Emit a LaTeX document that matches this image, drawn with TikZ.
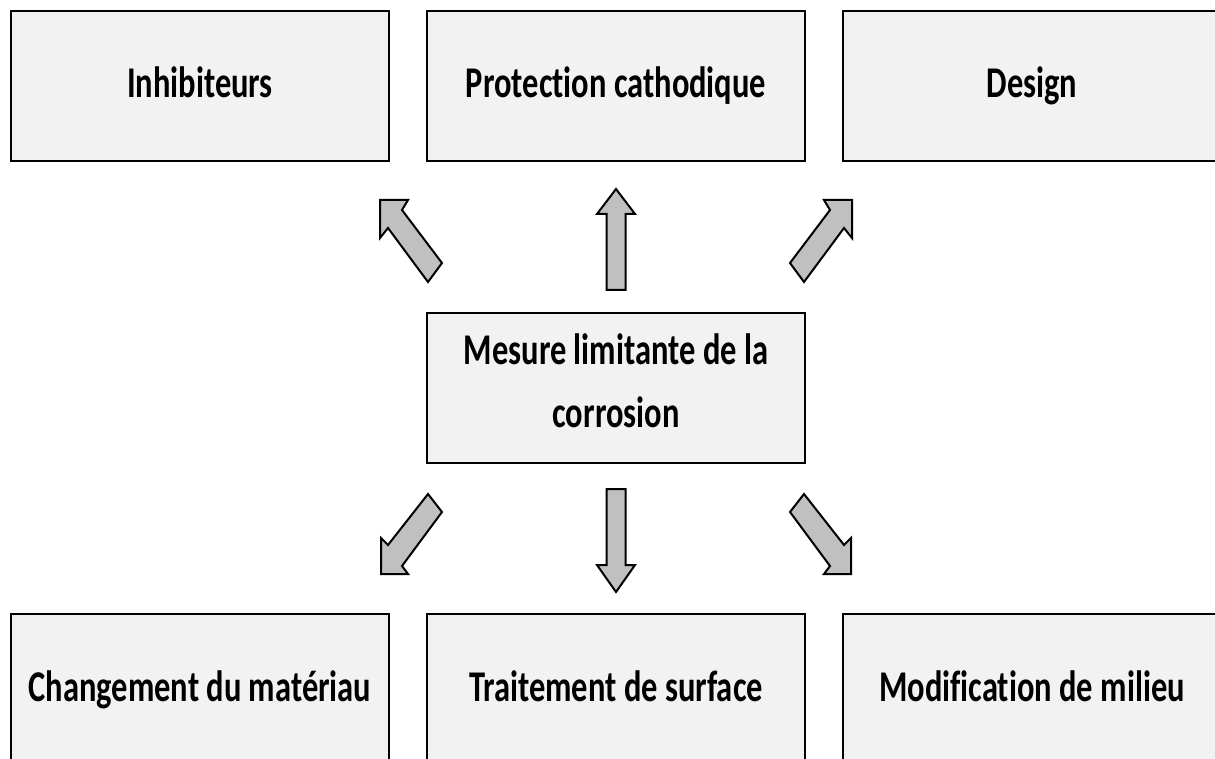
\documentclass[tikz,border=0pt]{standalone}
\usepackage{fontspec}
\setmainfont{Carlito}[Ligatures=NoCommon]
\usepackage{graphicx}
\definecolor{boxfill}{HTML}{F2F2F2}
\definecolor{arrowfill}{HTML}{C0C0C0}
\newcommand{\stretchtxt}[1]{\raisebox{-6pt}[0pt][0pt]{\scalebox{1}[1.35]{#1}}}
\newcommand{\stretchtwo}[2]{\raisebox{-19.5pt}[0pt][0pt]{\scalebox{1}[1.35]{\begin{tabular}[b]{@{}c@{}}#1\\#2\end{tabular}}}}
\begin{document}
\begin{tikzpicture}[x=0.5pt,y=-0.5pt,
  boxnode/.style={draw=black, line width=1.3pt, fill=boxfill, rectangle,
    minimum width=189pt, minimum height=75pt, inner sep=0pt, outer sep=0pt,
    font=\fontsize{16.25}{23}\selectfont\bfseries},
  blockarrow/.style={draw=black, line width=1pt, fill=arrowfill, line join=miter}]
\useasboundingbox (0,0) rectangle (1215,759);
\clip (0,0) rectangle (1215,759);
\fill[white] (0,0) rectangle (1215,759);
% boxes
\node[boxnode] (inh) at (200,86) {\stretchtxt{Inhibiteurs}};
\node[boxnode] (pc) at (616,86) {\stretchtxt{Protection cathodique}};
\node[boxnode] (des) at (1032,86) {\stretchtxt{Design}};
\node[boxnode] (mes) at (616,388) {\stretchtwo{Mesure limitante de la}{corrosion}};
\node[boxnode] (chg) at (200,689) {\stretchtxt{Changement du matériau}};
\node[boxnode] (trt) at (616,689) {\stretchtxt{Traitement de surface}};
\node[boxnode] (mod) at (1032,689) {\stretchtxt{Modification de milieu}};
% block arrows
% up
\draw[blockarrow] (616,189) -- (635,214) -- (625.5,214) -- (625.5,290) -- (606.5,290) -- (606.5,214) -- (597,214) -- cycle;
% down
\draw[blockarrow] (616,592) -- (635,565) -- (625.5,565) -- (625.5,489) -- (606.5,489) -- (606.5,565) -- (597,565) -- cycle;
% up-left
\draw[blockarrow] (380,200) -- (408,200) -- (402,210) -- (442,263) -- (428,282) -- (388,228) -- (380,238) -- cycle;
% up-right
\draw[blockarrow] (852,200) -- (824,200) -- (830,210) -- (790,263) -- (804,282) -- (844,228) -- (852,238) -- cycle;
% down-left
\draw[blockarrow] (381,574) -- (408,574) -- (402,566) -- (442,512) -- (428,494) -- (388,545) -- (381,538) -- cycle;
% down-right
\draw[blockarrow] (851,574) -- (824,574) -- (830,566) -- (790,512) -- (804,494) -- (844,545) -- (851,538) -- cycle;
\end{tikzpicture}
\end{document}
